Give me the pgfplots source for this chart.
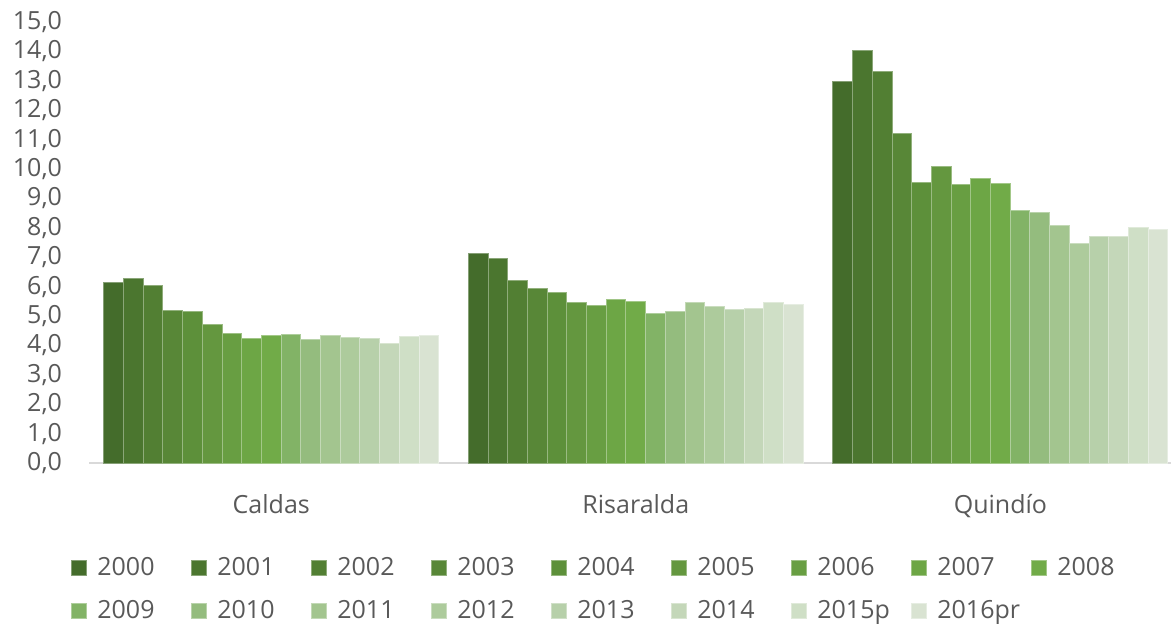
\documentclass[border=0pt]{standalone}
\usepackage{pgfplots}
\pgfplotsset{compat=1.18}
\usepackage{fontspec}
\setmainfont{Open Sans}
\definecolor{txt}{HTML}{595959}
\definecolor{axgray}{HTML}{D9D9D9}
\definecolor{c00}{HTML}{446C2B}
\definecolor{c01}{HTML}{4B762F}
\definecolor{c02}{HTML}{527F33}
\definecolor{c03}{HTML}{588737}
\definecolor{c04}{HTML}{5D903A}
\definecolor{c05}{HTML}{64973F}
\definecolor{c06}{HTML}{689E42}
\definecolor{c07}{HTML}{6DA645}
\definecolor{c08}{HTML}{71AB48}
\definecolor{c09}{HTML}{82B366}
\definecolor{c10}{HTML}{94BC7E}
\definecolor{c11}{HTML}{A3C58F}
\definecolor{c12}{HTML}{ADCB9C}
\definecolor{c13}{HTML}{B7D0AA}
\definecolor{c14}{HTML}{C4D7B9}
\definecolor{c15}{HTML}{CFDFC6}
\definecolor{c16}{HTML}{D9E3D2}
\newcommand{\lb}[1]{\makebox[34pt][l]{#1}}
\begin{document}
\begin{tikzpicture}
\path[use as bounding box] (0pt,0pt) rectangle (585.5pt,-316.5pt);
\begin{axis}[
  at={(44.5pt,-231.5pt)}, anchor=south west,
  scale only axis, width=541pt, height=220.5pt,
  xmin=-0.5, xmax=2.468, ymin=0, ymax=15,
  ybar=0pt, bar width=0.05405,
  xtick={0,1,2}, xticklabels={Caldas,Risaralda,Quindío},
  ytick={0,1,...,15},
  axis x line*=bottom, axis y line*=left,
  y axis line style={draw=none},
  x axis line style={draw=axgray, line width=0.75pt},
  major tick length=0pt,
  tick label style={font=\fontsize{12.5}{15}\selectfont, text=txt},
  /pgf/number format/assume math mode=true,
  yticklabel style={xshift=-10pt, /pgf/number format/.cd, fixed, fixed zerofill, precision=1, use comma},
  xticklabel style={yshift=-12pt},
  clip=false,
  legend columns=9,
  legend image code/.code={\fill[#1] (0pt,-3.75pt) rectangle (7.5pt,3.75pt);},
  legend style={draw=none, fill=none, at={(-0.0222,-0.195)}, anchor=north west,
    font=\fontsize{12.5}{15}\selectfont, text=txt, row sep=7pt,
    /tikz/every odd column/.append style={column sep=3pt},
    /tikz/every even column/.append style={column sep=11pt}},
  every axis plot/.append style={line width=0.5pt},
]
\addplot[fill=c00, draw=c00!65!white] coordinates {(0,6.14) (1,7.14) (2,12.97)};
\addplot[fill=c01, draw=c01!65!white] coordinates {(0,6.26) (1,6.97) (2,14.02)};
\addplot[fill=c02, draw=c02!65!white] coordinates {(0,6.05) (1,6.20) (2,13.33)};
\addplot[fill=c03, draw=c03!65!white] coordinates {(0,5.18) (1,5.95) (2,11.20)};
\addplot[fill=c04, draw=c04!65!white] coordinates {(0,5.16) (1,5.81) (2,9.53)};
\addplot[fill=c05, draw=c05!65!white] coordinates {(0,4.71) (1,5.47) (2,10.07)};
\addplot[fill=c06, draw=c06!65!white] coordinates {(0,4.42) (1,5.35) (2,9.46)};
\addplot[fill=c07, draw=c07!65!white] coordinates {(0,4.22) (1,5.57) (2,9.67)};
\addplot[fill=c08, draw=c08!65!white] coordinates {(0,4.34) (1,5.48) (2,9.52)};
\addplot[fill=c09, draw=c09!65!white] coordinates {(0,4.36) (1,5.09) (2,8.59)};
\addplot[fill=c10, draw=c10!65!white] coordinates {(0,4.19) (1,5.17) (2,8.52)};
\addplot[fill=c11, draw=c11!65!white] coordinates {(0,4.34) (1,5.47) (2,8.07)};
\addplot[fill=c12, draw=c12!65!white] coordinates {(0,4.27) (1,5.34) (2,7.45)};
\addplot[fill=c13, draw=c13!65!white] coordinates {(0,4.23) (1,5.22) (2,7.69)};
\addplot[fill=c14, draw=c14!65!white] coordinates {(0,4.05) (1,5.24) (2,7.72)};
\addplot[fill=c15, draw=c15!65!white] coordinates {(0,4.30) (1,5.47) (2,8.00)};
\addplot[fill=c16, draw=c16!65!white] coordinates {(0,4.33) (1,5.39) (2,7.94)};
\legend{\lb{2000},\lb{2001},\lb{2002},\lb{2003},\lb{2004},\lb{2005},\lb{2006},\lb{2007},\lb{2008},
\lb{2009},\lb{2010},\lb{2011},\lb{2012},\lb{2013},\lb{2014},\lb{2015p},\lb{2016pr}}
\end{axis}
\end{tikzpicture}
\end{document}
